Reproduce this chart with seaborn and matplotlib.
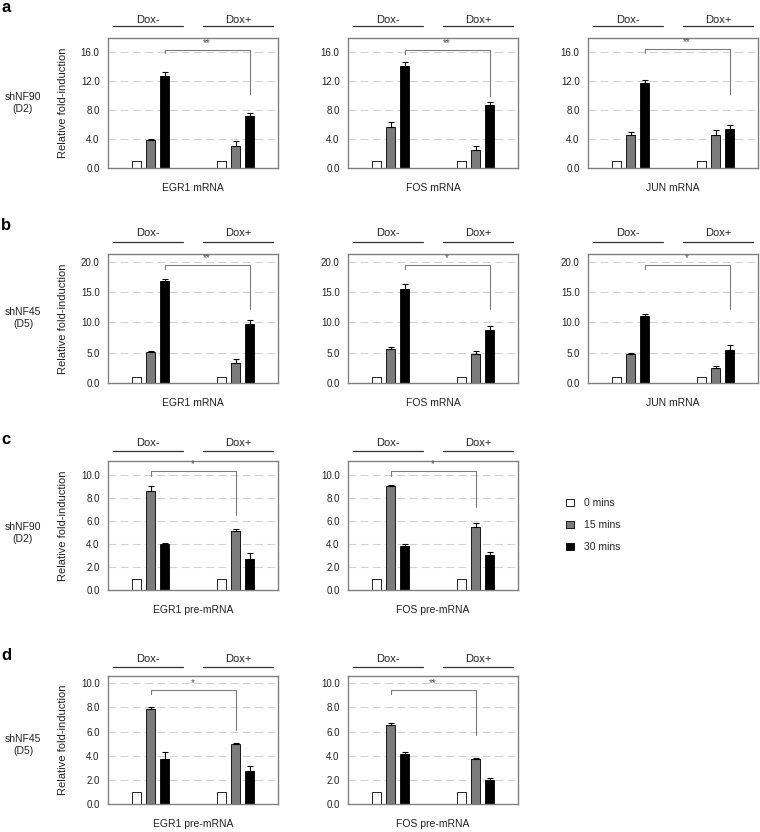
import numpy as np
import pandas as pd
import matplotlib
matplotlib.use('Agg')
import matplotlib.pyplot as plt
import seaborn as sns
from matplotlib.patches import Patch

sns.set_theme(style='white')
plt.rcParams['font.family'] = ['Liberation Sans', 'DejaVu Sans']

# ---------------- data ----------------
times = ['0 mins', '15 mins', '30 mins']
conditions = ['Dox-', 'Dox+']
time_colors = ['#ffffff', '#7b7b7b', '#000000']

row_letters = ['a', 'b', 'c', 'd']
row_names = ['shNF90\n(D2)', 'shNF45\n(D5)', 'shNF90\n(D2)', 'shNF45\n(D5)']
row_ymax = [18.0, 21.25, 11.25, 10.6]
row_yticks = [[0, 4, 8, 12, 16], [0, 5, 10, 15, 20], [0, 2, 4, 6, 8, 10], [0, 2, 4, 6, 8, 10]]

# row a: shNF90 (D2) mRNA
a_genes = ['EGR1 mRNA', 'FOS mRNA', 'JUN mRNA']
a_egr1_mean = [[1.0, 3.87, 12.73], [1.0, 3.03, 7.18]]
a_egr1_err = [[0, 0.14, 0.60], [0, 0.65, 0.42]]
a_fos_mean = [[1.0, 5.74, 14.18], [1.0, 2.43, 8.77]]
a_fos_err = [[0, 0.60, 0.47], [0, 0.60, 0.37]]
a_jun_mean = [[1.0, 4.62, 11.75], [1.0, 4.62, 5.46]]
a_jun_err = [[0, 0.32, 0.38], [0, 0.60, 0.56]]
a_stars = ['**', '**', '**']

# row b: shNF45 (D5) mRNA
b_genes = ['EGR1 mRNA', 'FOS mRNA', 'JUN mRNA']
b_egr1_mean = [[1.0, 5.07, 16.75], [1.0, 3.36, 9.70]]
b_egr1_err = [[0, 0.27, 0.33], [0, 0.55, 0.66]]
b_fos_mean = [[1.0, 5.62, 15.54], [1.0, 4.85, 8.76]]
b_fos_err = [[0, 0.28, 0.82], [0, 0.38, 0.61]]
b_jun_mean = [[1.0, 4.79, 11.07], [1.0, 2.48, 5.45]]
b_jun_err = [[0, 0.22, 0.22], [0, 0.27, 0.78]]
b_stars = ['**', '*', '*']

# row c: shNF90 (D2) pre-mRNA
c_genes = ['EGR1 pre-mRNA', 'FOS pre-mRNA']
c_egr1_mean = [[1.0, 8.63, 4.01], [1.0, 5.15, 2.73]]
c_egr1_err = [[0, 0.47, 0.12], [0, 0.14, 0.53]]
c_fos_mean = [[1.0, 9.10, 3.81], [1.0, 5.47, 3.02]]
c_fos_err = [[0, 0.06, 0.23], [0, 0.40, 0.26]]
c_stars = ['*', '*']

# row d: shNF45 (D5) pre-mRNA
d_genes = ['EGR1 pre-mRNA', 'FOS pre-mRNA']
d_egr1_mean = [[1.0, 7.85, 3.72], [1.0, 4.93, 2.75]]
d_egr1_err = [[0, 0.22, 0.58], [0, 0.11, 0.42]]
d_fos_mean = [[1.0, 6.56, 4.13], [1.0, 3.72, 2.01]]
d_fos_err = [[0, 0.11, 0.17], [0, 0.05, 0.17]]
d_stars = ['*', '**']

# significance brackets: (compared time level, top y, left end y, right end y)
a_brackets = [(2, 16.4, 15.9, 10.2), (2, 16.4, 15.8, 10.0), (2, 16.45, 15.9, 10.3)]
b_brackets = [(2, 19.45, 18.8, 12.2), (2, 19.45, 18.8, 12.2), (2, 19.45, 18.8, 12.2)]
c_brackets = [(1, 10.41, 9.95, 6.54), (1, 10.41, 9.9, 7.21)]
d_brackets = [(1, 9.45, 9.1, 6.14), (1, 9.45, 9.1, 5.73)]

rows = [
    (a_genes, [a_egr1_mean, a_fos_mean, a_jun_mean], [a_egr1_err, a_fos_err, a_jun_err], a_stars, a_brackets),
    (b_genes, [b_egr1_mean, b_fos_mean, b_jun_mean], [b_egr1_err, b_fos_err, b_jun_err], b_stars, b_brackets),
    (c_genes, [c_egr1_mean, c_fos_mean], [c_egr1_err, c_fos_err], c_stars, c_brackets),
    (d_genes, [d_egr1_mean, d_fos_mean], [d_egr1_err, d_fos_err], d_stars, d_brackets),
]

# ---------------- layout ----------------
W, H = 760, 832
fig = plt.figure(figsize=(W / 100, H / 100), dpi=100)
fig.patch.set_facecolor('white')

col_left = [108, 348, 588]
ax_w = 170
row_tb = [(38, 168), (254, 383), (461, 590), (676, 804)]
dox_line_off = [12, 12, 10, 9]
dox_text_off = [18, 21, 18, 17]
row_label_y = [103, 318, 533, 745]
letter_y = [7, 225, 440, 655]

FS = 7.5
TXT = '#222222'


def draw_panel(ax, r, gene, means, errs, stars, bracket):
    t, b = row_tb[r]
    h_px = b - t
    df = pd.DataFrame({
        'dox': np.repeat(conditions, len(times)),
        'time': times * len(conditions),
        'value': np.ravel(means),
    })
    sns.barplot(data=df, x='dox', y='value', hue='time', order=conditions,
                hue_order=times, palette=time_colors, saturation=1,
                width=0.5, gap=0.36, edgecolor='black', linewidth=0.6,
                errorbar=None, legend=False, ax=ax, zorder=2)
    bar_conts = list(ax.containers)
    # error bars (upper only)
    for k, cont in enumerate(bar_conts):
        for j, bar in enumerate(cont):
            e = errs[j][k]
            if e > 0:
                x = bar.get_x() + bar.get_width() / 2
                ax.errorbar(x, bar.get_height(), yerr=[[0], [e]], fmt='none',
                            ecolor='black', elinewidth=0.8, capsize=2.5,
                            capthick=0.8, zorder=3)
    # significance bracket
    lvl, ytop, yl, yr = bracket
    cont = bar_conts[lvl]
    x0 = cont[0].get_x() + cont[0].get_width() / 2
    x1 = cont[1].get_x() + cont[1].get_width() / 2
    ax.plot([x0, x0, x1, x1], [yl, ytop, ytop, yr], color='#7a7a7a', lw=0.8,
            zorder=4)
    ax.text((x0 + x1) / 2, ytop + 0.015 * row_ymax[r], stars,
            ha='center', va='bottom', fontsize=7, color='#555555')

    ymax = row_ymax[r]
    ax.set_xlim(-0.5, 1.5)
    ax.set_ylim(0, ymax)
    yt = row_yticks[r]
    ax.set_yticks(yt)
    ax.set_yticklabels([f'{v:.1f}' for v in yt])
    ax.tick_params(axis='y', length=0, pad=6, labelsize=7, colors=TXT)
    ax.set_xticks([])
    ax.set_xlabel('')
    ax.set_ylabel('')
    ax.text(0.5, -20 / h_px, gene, transform=ax.transAxes, ha='center',
            va='center', fontsize=FS, color=TXT)
    for y in yt[1:]:
        ax.axhline(y, color='#d2d2d2', lw=0.8, ls=(0, (7, 4)), zorder=0)
    for s in ax.spines.values():
        s.set_color('#808080')
        s.set_linewidth(1.0)
    # Dox- / Dox+ headers
    for lbl, (xa, xb) in zip(conditions, [(0.03, 0.44), (0.56, 0.97)]):
        ax.plot([xa, xb], [1 + dox_line_off[r] / h_px] * 2, transform=ax.transAxes,
                color='#333333', lw=0.9, clip_on=False)
        ax.text((xa + xb) / 2, 1 + dox_text_off[r] / h_px, lbl,
                transform=ax.transAxes, ha='center', va='center', fontsize=8,
                color=TXT)


for r, (genes, means_l, errs_l, stars_l, brk_l) in enumerate(rows):
    t, b = row_tb[r]
    for c in range(len(genes)):
        ax = fig.add_axes([col_left[c] / W, 1 - b / H, ax_w / W, (b - t) / H])
        draw_panel(ax, r, genes[c], means_l[c], errs_l[c], stars_l[c], brk_l[c])
        if c == 0:
            ax.set_ylabel('Relative fold-induction', fontsize=8, color=TXT)
            ax.yaxis.set_label_coords(-40 / ax_w, 0.5)
    fig.text(23 / W, 1 - row_label_y[r] / H, row_names[r], ha='center',
             va='center', fontsize=FS, color=TXT, linespacing=1.15)
    fig.text(1 / W, 1 - letter_y[r] / H, row_letters[r], ha='left', va='center',
             fontsize=12, fontweight='bold', color='black')

# legend
handles = [Patch(facecolor=col, edgecolor='black', linewidth=0.6) for col in time_colors]
fig.legend(handles, times, loc='center left', bbox_to_anchor=(566 / W, 1 - 525 / H),
           frameon=False, fontsize=FS, handlelength=0.75, handleheight=0.75,
           handletextpad=1.0, labelspacing=1.15, borderpad=0, borderaxespad=0)

fig.savefig('out.png', dpi=100, facecolor='white')
